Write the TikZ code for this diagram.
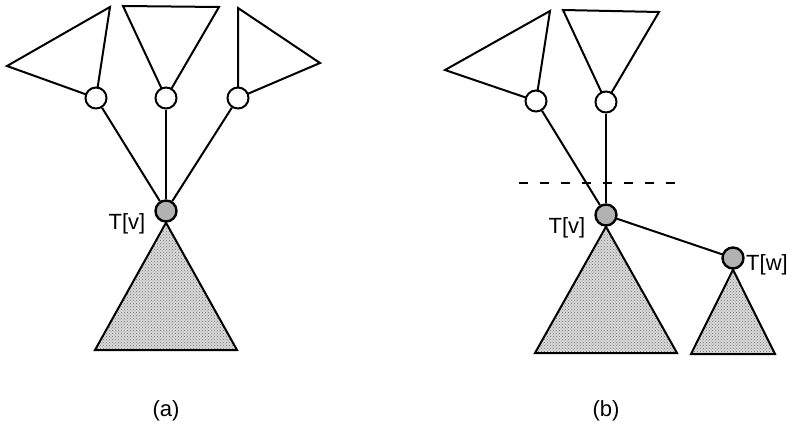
\documentclass[tikz,border=0pt]{standalone}
\usepackage{fontspec}
\setmainfont{Liberation Sans}
\usetikzlibrary{patterns}
\begin{document}
\begin{tikzpicture}[x=1pt,y=-1pt, line width=2pt, line join=miter,
  leaf/.style={circle,draw,fill=white,minimum size=21pt,inner sep=0pt},
  rootnode/.style={circle,draw,fill=gray!60,minimum size=21pt,inner sep=0pt,line width=2.4pt},
  subtree/.style={draw,preaction={fill=gray!30},pattern=crosshatch dots,pattern color=gray!90!black},
  upper/.style={draw,fill=white},
  lbl/.style={font=\fontsize{22}{24}\selectfont,inner sep=0pt},
  captext/.style={font=\fontsize{22}{24}\selectfont,inner sep=0pt}]
\useasboundingbox (0,0) rectangle (795,428);
% ---------- (a) ----------
\coordinate (a1) at (96,98);
\coordinate (a2) at (166,98);
\coordinate (a3) at (238,98);
\draw[upper] (7,66) -- (110,7) -- (a1) -- cycle;
\draw[upper] (123,6) -- (219,7) -- (a2) -- cycle;
\draw[upper] (238,8) -- (320,63) -- (a3) -- cycle;
\node[leaf] (la) at (a1) {};
\node[leaf] (ma) at (a2) {};
\node[leaf] (ra) at (a3) {};
\node[rootnode] (va) at (166,211) {};
\draw (la) -- (va);
\draw (ma) -- (va);
\draw (ra) -- (va);
\draw[subtree] (va.south) -- (95,350) -- (237,350) -- cycle;
\node[lbl] (tva) at (127,224) {T[v]};
\node[captext] (capa) at (166,411) {(a)};
% ---------- (b) ----------
\coordinate (b1) at (536,101);
\coordinate (b2) at (606,102);
\draw[upper] (445,70) -- (550,11) -- (b1) -- cycle;
\draw[upper] (563,10) -- (659,12) -- (b2) -- cycle;
\node[leaf] (lb) at (b1) {};
\node[leaf] (mb) at (b2) {};
\node[rootnode] (vb) at (606,215) {};
\node[rootnode] (wb) at (733,258) {};
\draw (lb) -- (vb);
\draw (mb) -- (vb);
\draw (vb) -- (wb);
\coordinate (d1) at (519,183);
\coordinate (d2) at (684,183);
\draw[dash pattern=on 9pt off 12pt] (d1) -- (d2);
\draw[subtree] (vb.south) -- (535,353) -- (677,353) -- cycle;
\draw[subtree] (wb.south) -- (691,354) -- (775,354) -- cycle;
\node[lbl] (tvb) at (567,228) {T[v]};
\node[lbl] (twb) at (767,265) {T[w]};
\node[captext] (capb) at (606,411) {(b)};
\end{tikzpicture}
\end{document}
